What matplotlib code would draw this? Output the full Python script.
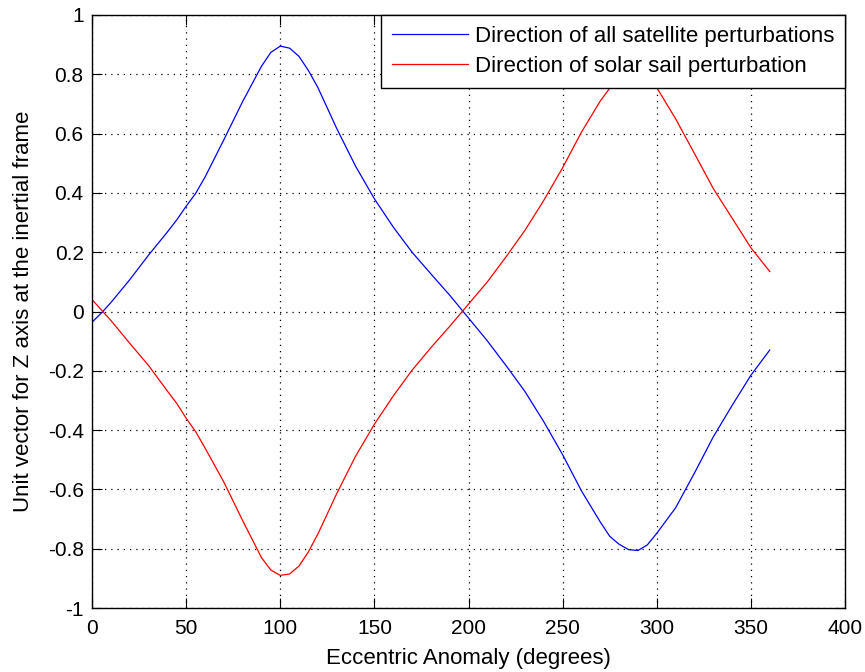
import numpy as np
import matplotlib
matplotlib.use("Agg")
import matplotlib.pyplot as plt

plt.rcParams["font.family"] = ["Liberation Sans", "DejaVu Sans"]

# eccentric anomaly samples (deg)
anom_deg = [0, 5, 10, 20, 30, 40, 45, 50, 55, 60, 70, 80, 90, 95, 100, 105,
            110, 115, 120, 130, 140, 150, 160, 170, 180, 190, 200, 210, 220,
            230, 240, 250, 260, 270, 275, 280, 285, 290, 295, 300, 310, 320,
            330, 340, 350, 360]

# direction of all satellite perturbations (Z component)
z_all = [-0.036, -0.005, 0.03, 0.107, 0.19, 0.268, 0.309, 0.355, 0.398, 0.453,
         0.579, 0.708, 0.827, 0.874, 0.895, 0.888, 0.86, 0.812, 0.755, 0.617,
         0.49, 0.38, 0.285, 0.2, 0.127, 0.055, -0.022, -0.099, -0.183,
         -0.27, -0.372, -0.483, -0.605, -0.71, -0.758, -0.785, -0.803, -0.806,
         -0.787, -0.748, -0.662, -0.545, -0.423, -0.317, -0.215, -0.13]

# direction of solar sail perturbation (Z component)
z_sail = [0.04, 0.005, -0.03, -0.107, -0.182, -0.268, -0.31, -0.36, -0.405, -0.46,
          -0.575, -0.705, -0.83, -0.872, -0.89, -0.885, -0.858, -0.81, -0.75,
          -0.614, -0.488, -0.38, -0.285, -0.198, -0.122, -0.05, 0.025, 0.1,
          0.185, 0.274, 0.375, 0.485, 0.605, 0.71, 0.753, 0.785, 0.805, 0.807,
          0.79, 0.755, 0.65, 0.533, 0.415, 0.315, 0.215, 0.135]

fig = plt.figure(figsize=(8.65, 6.72), dpi=100)
ax = fig.add_axes([0.1064, 0.0952, 0.8705, 0.8825])

ax.plot(anom_deg, z_all, color="blue", lw=0.9,
        label="Direction of all satellite perturbations")
ax.plot(anom_deg, z_sail, color="red", lw=0.9,
        label="Direction of solar sail perturbation")

ax.set_xlim(0, 400)
ax.set_ylim(-1, 1)
ax.set_xticks(np.arange(0, 401, 50))
ax.set_yticks(np.round(np.arange(-1, 1.01, 0.2), 1))
ax.set_yticklabels(["-1", "-0.8", "-0.6", "-0.4", "-0.2", "0",
                    "0.2", "0.4", "0.6", "0.8", "1"])
ax.tick_params(direction="in", length=7, width=0.8, top=True, right=True,
               labelsize=15)
ax.tick_params(axis="x", pad=8)
ax.tick_params(axis="y", pad=6)
ax.grid(True, linestyle=(0, (1, 4)), color="black", linewidth=0.9)
for s in ax.spines.values():
    s.set_linewidth(1.0)

ax.set_xlabel("Eccentric Anomaly (degrees)", fontsize=16, labelpad=7)
ax.set_ylabel("Unit vector for Z axis at the inertial frame", fontsize=16,
              labelpad=10)

leg = ax.legend(loc="upper right", borderaxespad=0, fancybox=False,
                edgecolor="black", framealpha=1, fontsize=16,
                handlelength=3.4, handletextpad=0.3, labelspacing=0.38,
                borderpad=0.5)
leg.get_frame().set_linewidth(1.0)

fig.savefig("out.png", dpi=100, facecolor="white")
